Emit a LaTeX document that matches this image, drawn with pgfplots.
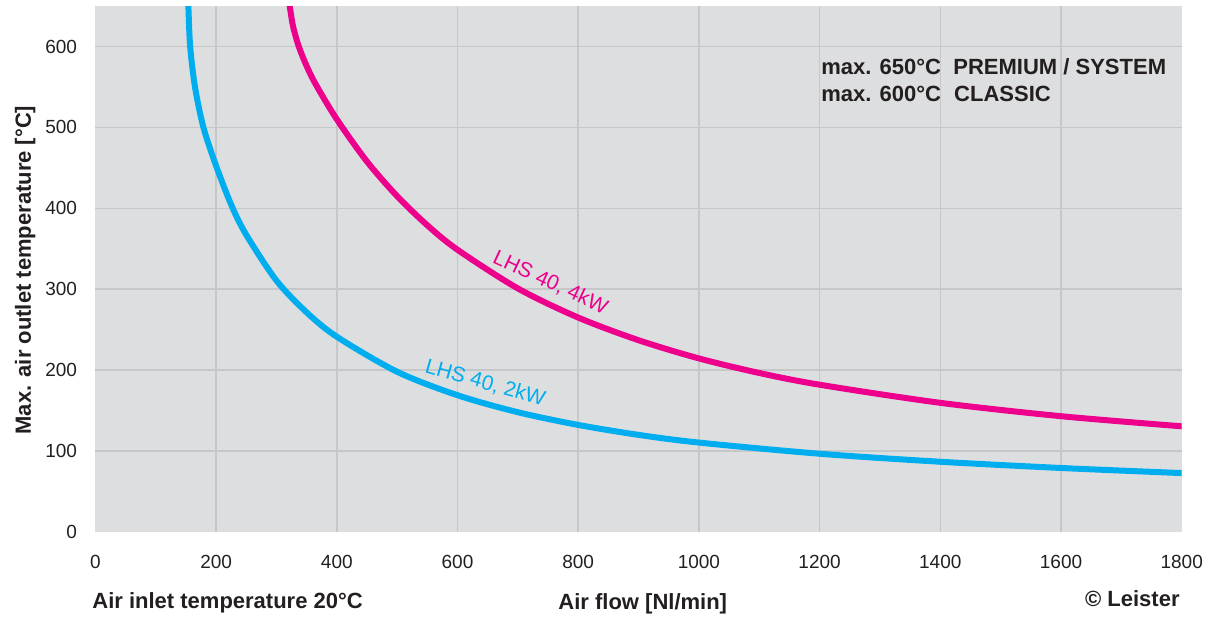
\documentclass[border=0pt]{standalone}
\usepackage{fontspec}
\setmainfont{Liberation Sans}
\usepackage{pgfplots}
\pgfplotsset{compat=1.18}
\definecolor{bg}{HTML}{DDDEE0}
\definecolor{gridc}{HTML}{C6C7C9}
\definecolor{txt}{HTML}{231F20}
\definecolor{cyanc}{HTML}{00AEEF}
\definecolor{magc}{HTML}{EC008C}
\begin{document}
\begin{tikzpicture}
\begin{axis}[
 at={(0pt,0pt)}, anchor=south west,
 width=543.15pt, height=263pt, scale only axis,
 xmin=0, xmax=1800, ymin=0, ymax=650,
 axis background/.style={fill=bg},
 axis line style={draw=none},
 tick style={draw=none},
 xtick={0,200,...,1800}, ytick={0,100,...,600},
 extra x ticks={200,400,...,1600}, extra x tick labels={},
 extra y ticks={100,200,...,600}, extra y tick labels={},
 extra tick style={grid=major},
 major grid style={draw=gridc, line width=0.75pt},
 ticklabel style={font=\fontsize{9.5}{11}\selectfont, text=txt},
 /pgf/number format/assume math mode=true,
 /pgf/number format/1000 sep={},
 xticklabel style={anchor=north, inner sep=0pt, yshift=-11.5pt},
 yticklabel style={anchor=east, inner sep=0pt, xshift=-9pt},
]
\addplot[cyanc, line width=3pt, smooth] coordinates {
 (153,660) (154,650) (157,600) (165,550) (179,500) (200,452.5) (226,402.7)
 (250,367.2) (300,310.7) (350,271.4) (400,241.3) (500,198) (600,169) (700,148)
 (800,132.3) (900,120) (1000,110.5) (1200,96.7) (1400,86.8) (1600,79.1) (1800,72.8)
};
\addplot[magc, line width=3pt, smooth] coordinates {
 (320.5,660) (322,650) (327.5,625) (337,600) (350.5,575) (366,552) (400,510)
 (450,457.8) (500,415) (550,379) (600,348.8) (700,301) (800,265) (900,237)
 (1000,214.5) (1100,196.5) (1200,182) (1400,159.6) (1600,143.1) (1800,130.6)
};
\node[rotate=-25, text=magc, inner sep=0pt, font=\fontsize{10.5}{12}\selectfont] at (axis cs:754,308) {LHS 40, 4kW};
\node[rotate=-16, text=cyanc, inner sep=0pt, font=\fontsize{10.5}{12}\selectfont] at (axis cs:646,184) {LHS 40, 2kW};
\end{axis}
\begin{scope}[every node/.style={inner sep=0pt, text=txt, font=\bfseries\fontsize{11}{13}\selectfont}]
\node[anchor=base west] at (-1.7pt,-38.5pt) {Air inlet temperature 20°C};
\node[anchor=base west] at (231.3pt,-39pt) {Air flow [Nl/min]};
\node[anchor=base east] at (542.3pt,-37.3pt) {© Leister};
\node[anchor=base, rotate=90] at (-32.2pt,131pt) {Max. air outlet temperature [°C]};
\node[anchor=base west] at (362.8pt,228.5pt) {max. 650°C};
\node[anchor=base west] at (428.8pt,228.5pt) {PREMIUM / SYSTEM};
\node[anchor=base west] at (362.8pt,215.2pt) {max. 600°C};
\node[anchor=base west] at (429.2pt,215.2pt) {CLASSIC};
\end{scope}
\pgfresetboundingbox
\path[use as bounding box] (-47.7pt,-43.5pt) rectangle (556.8pt,266pt);
\end{tikzpicture}
\end{document}
